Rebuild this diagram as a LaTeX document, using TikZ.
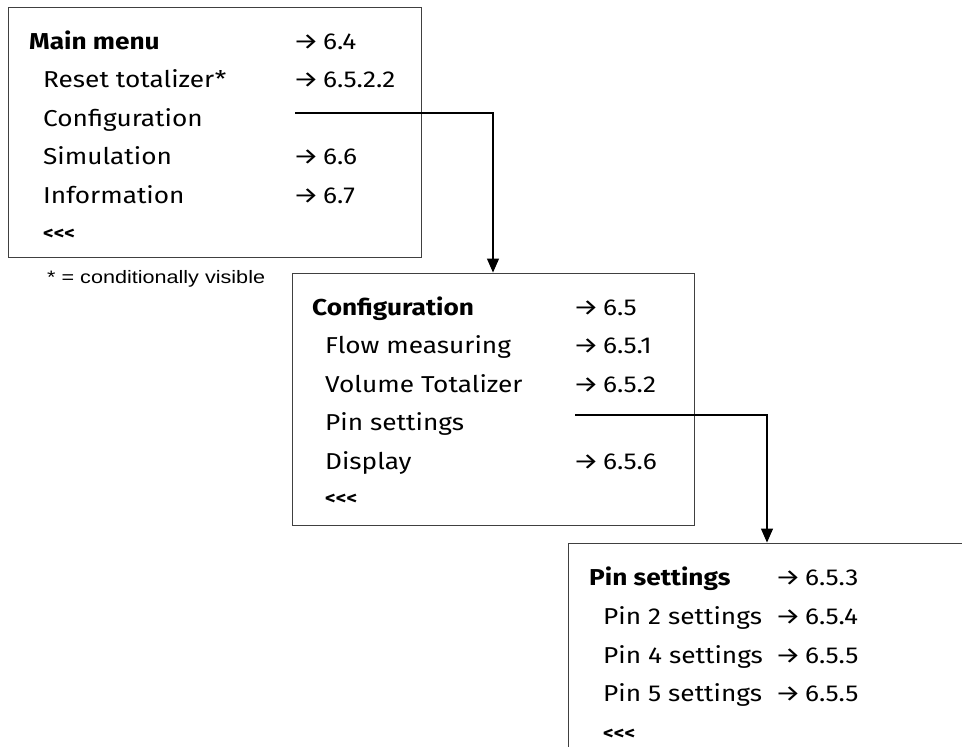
\documentclass[tikz,border=0pt]{standalone}
\usepackage{graphicx}
\usepackage{fontspec}
\setmainfont[FakeStretch=1.14]{Fira Sans}
\newfontfamily\notefont[FakeStretch=1.2]{Liberation Sans}
\newfontfamily\arrfont{Fira Sans}
\usetikzlibrary{arrows.meta}
\begin{document}
\begin{tikzpicture}[x=1pt,y=-1pt,
  menubox/.style={draw=black!75,line width=0.9pt,inner sep=0pt},
  item/.style={anchor=base west,inner sep=0pt,font=\fontsize{23}{26}\selectfont},
  head/.style={item,font=\fontsize{23}{26}\selectfont\bfseries},
  ref/.style={item},
  back/.style={anchor=base west,inner sep=0pt,font=\fontsize{18}{20}\selectfont\bfseries},
  conn/.style={draw=black,line width=1.2pt,-{Triangle[width=12pt,length=14pt]}},
  note/.style={anchor=base west,inner sep=0pt,font=\notefont\fontsize{18}{20}\selectfont}]
\useasboundingbox (0,0) rectangle (962,747);
\clip (0,0) rectangle (962,747);
% boxes
\node[menubox,minimum width=413pt,minimum height=250pt] (m1) at (214.5,132) {};
\node[menubox,minimum width=402pt,minimum height=252pt] (m2) at (493,399) {};
\node[menubox,minimum width=398pt,minimum height=252pt] (m3) at (767,669) {};
\newcommand{\ar}{\hspace{-2pt}\makebox[30pt][l]{\scalebox{1.25}[1]{\arrfont\fontsize{23}{23}\selectfont →}}}
% main menu
\node[head] (t11) at (29,49) {Main menu};
\node[ref]  (r11) at (295,49) {\ar 6.4};
\node[item] (t12) at (43,87.5) {Reset totalizer*};
\node[ref]  (r12) at (295,87.5) {\ar 6.5.2.2};
\node[item] (t13) at (43,126) {Configuration};
\node[item] (t14) at (43,164.5) {Simulation};
\node[ref]  (r14) at (295,164.5) {\ar 6.6};
\node[item] (t15) at (43,203) {Information};
\node[ref]  (r15) at (295,203) {\ar 6.7};
\node[back] (t16) at (43,239) {<{}<{}<};
\node[note] (fn) at (47,283) {* = conditionally visible};
% configuration
\node[head] (t21) at (312,315) {Configuration};
\node[ref]  (r21) at (575,315) {\ar 6.5};
\node[item] (t22) at (325,353.5) {Flow measuring};
\node[ref]  (r22) at (575,353.5) {\ar 6.5.1};
\node[item] (t23) at (325,392) {Volume Totalizer};
\node[ref]  (r23) at (575,392) {\ar 6.5.2};
\node[item] (t24) at (325,430.5) {Pin settings};
\node[item] (t25) at (325,469) {Display};
\node[ref]  (r25) at (575,469) {\ar 6.5.6};
\node[back] (t26) at (325,504) {<{}<{}<};
% pin settings
\node[head] (t31) at (589,585) {Pin settings};
\node[ref]  (r31) at (777,585) {\ar 6.5.3};
\node[item] (t32) at (603,624) {Pin 2 settings};
\node[ref]  (r32) at (777,624) {\ar 6.5.4};
\node[item] (t33) at (603,663) {Pin 4 settings};
\node[ref]  (r33) at (777,663) {\ar 6.5.5};
\node[item] (t34) at (603,701.5) {Pin 5 settings};
\node[ref]  (r34) at (777,701.5) {\ar 6.5.5};
\node[back] (t35) at (603,739) {<{}<{}<};
% connectors
\coordinate (c1) at (295,113);
\coordinate (c2) at (575,415);
\draw[conn] (c1) -| (m2.north);
\draw[conn] (c2) -| (m3.north);
\end{tikzpicture}
\end{document}
